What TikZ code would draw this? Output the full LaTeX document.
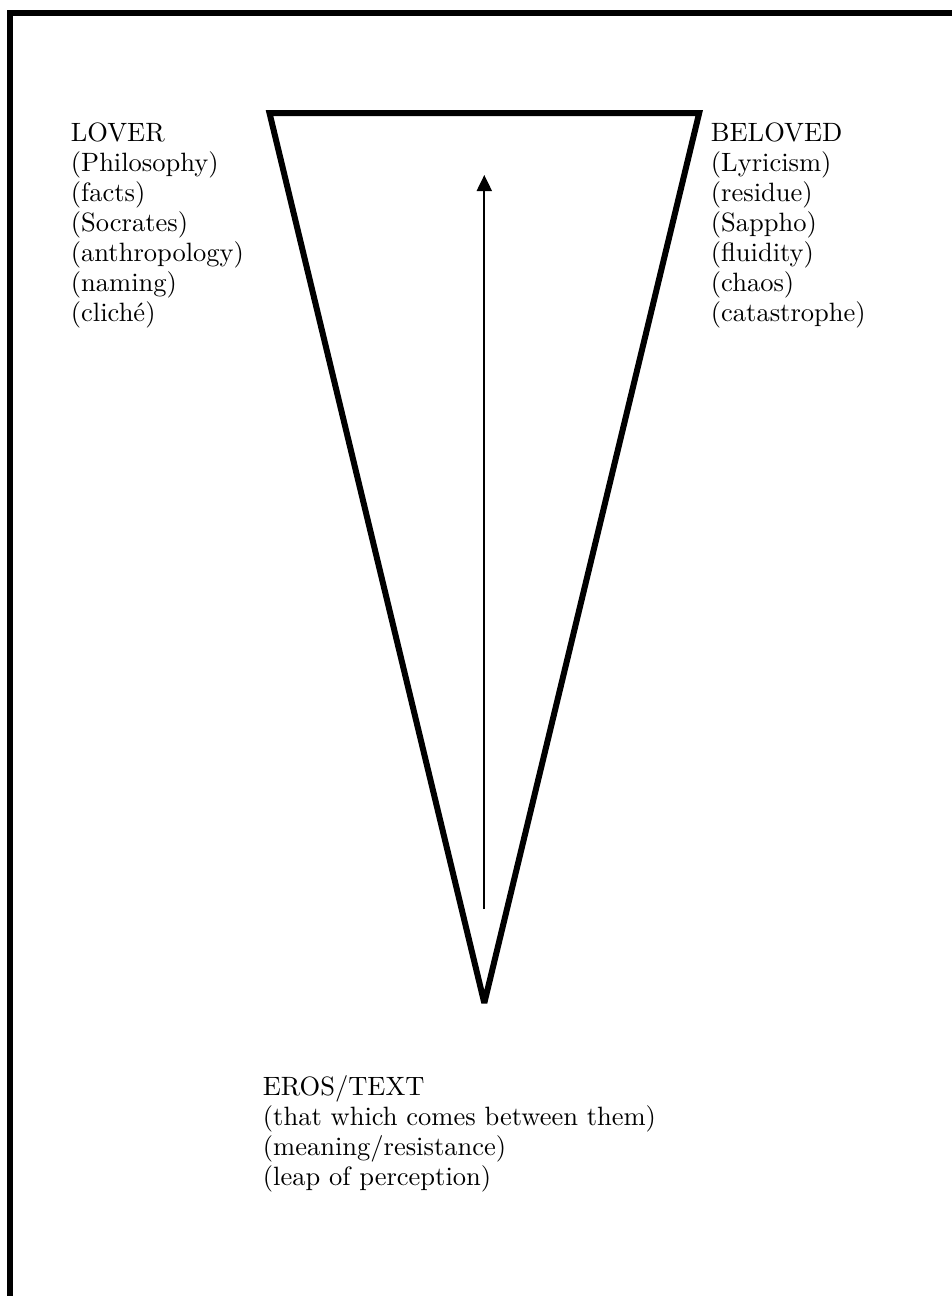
\documentclass[tikz,border=0pt]{standalone}
\usepackage{fontspec}
\setmainfont{lmroman10-regular.otf}
\usetikzlibrary{arrows.meta}
\begin{document}
\begin{tikzpicture}[x=1pt,y=-1pt,
  lbl/.style={inner sep=0pt, anchor=base west, font=\fontsize{26.5}{30}\selectfont},
  frame/.style={line width=5.5pt},
  cone/.style={line width=6pt, line join=miter, miter limit=3},
  arrowline/.style={line width=2pt, -{Triangle[length=16pt,width=15pt]}}]
\useasboundingbox (0,0) rectangle (952,1296);
\clip (0,0) rectangle (952,1296);
\fill[white] (0,0) rectangle (952,1296);
% frame (right and bottom edges fall outside the picture)
\draw[frame] (10,1400) -- (10,12.8) -- (1100,12.8);
% cone
\coordinate (tl) at (269.5,113);
\coordinate (tr) at (699.2,113);
\coordinate (apex) at (484.3,1003);
\draw[cone] (tl) -- (tr) -- (apex) -- cycle;
% arrow
\coordinate (tail) at (484.3,909);
\coordinate (tip) at (484.3,175);
\draw[arrowline] (tail) -- (tip);
% labels
\foreach \t [count=\i] in {LOVER,(Philosophy),(facts),(Socrates),(anthropology),(naming),(cliché)}
  \node[lbl] (lover\i) at (70.7,{141.7+30*(\i-1)}) {\t};
\foreach \t [count=\i] in {BELOVED,(Lyricism),(residue),(Sappho),(fluidity),(chaos),(catastrophe)}
  \node[lbl] (beloved\i) at (710.7,{141.7+30*(\i-1)}) {\t};
\foreach \t [count=\i] in {EROS/TEXT,(that which comes between them),(meaning/resistance),(leap of perception)}
  \node[lbl] (eros\i) at (262.7,{1095+30*(\i-1)}) {\t};
\end{tikzpicture}
\end{document}
